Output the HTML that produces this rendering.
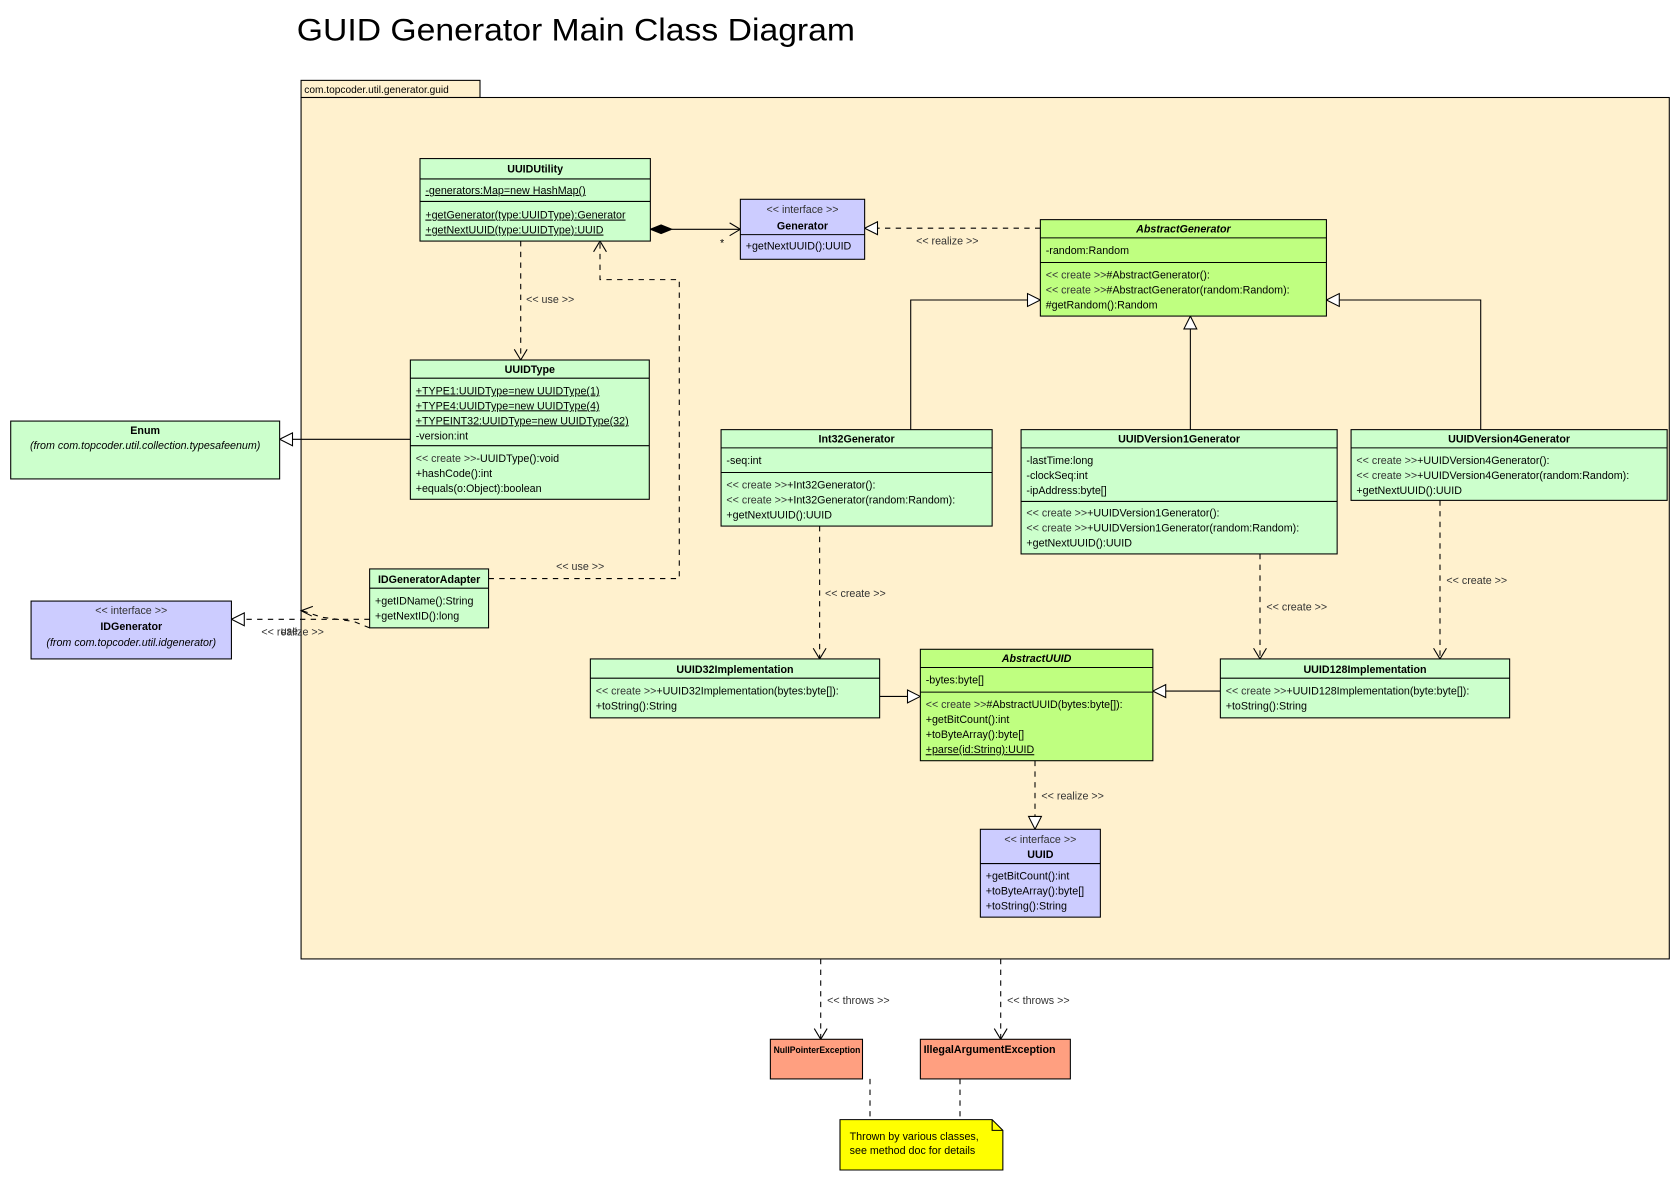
<!DOCTYPE html>
<html><head><meta charset="utf-8"><style>
html,body{margin:0;padding:0;background:#fff;}
svg{display:block}
text{font-family:"Liberation Sans","DejaVu Sans",sans-serif;font-size:10px;fill:#000}
.b{font-weight:bold}
.i{font-style:italic}
.s{fill:#333}
.u{text-decoration:underline}
.box{stroke:#000;stroke-width:1}
.ln{stroke:#000;stroke-width:1;fill:none}
.d{stroke:#000;stroke-width:1;fill:none;stroke-dasharray:5,5}
.tri{fill:#fff;stroke:#000;stroke-width:1}
</style></head><body>
<svg width="1680" height="1180" viewBox="0 0 1568 1101.33" xmlns="http://www.w3.org/2000/svg">
<rect width="1568" height="1102" fill="#fff"/>
<text x="277" y="38" style="font-size:29px" textLength="521" lengthAdjust="spacingAndGlyphs">GUID Generator Main Class Diagram</text>

<!-- package -->
<rect x="281" y="75" width="167" height="16" fill="#FFF1CE" class="box"/>
<text x="284" y="87" style="font-size:9.5px">com.topcoder.util.generator.guid</text>
<rect x="281" y="91" width="1277" height="804" fill="#FFF1CE" class="box"/>

<!-- connectors -->
<polygon points="607,214 617,210 627,214 617,218" fill="#000" stroke="#000"/>
<line x1="627" y1="214" x2="691" y2="214" class="ln"/>
<polyline points="681,208 691,214 681,220" class="ln"/>
<text x="672" y="230">*</text>

<line x1="971" y1="213" x2="819" y2="213" class="d"/>
<polygon points="807,213 819,207 819,219" class="tri"/>
<text x="855" y="228" class="s">&lt;&lt; realize &gt;&gt;</text>

<line x1="486" y1="225" x2="486" y2="336" class="d"/>
<polyline points="480,326 486,336 492,326" class="ln"/>
<text x="491" y="283" class="s">&lt;&lt; use &gt;&gt;</text>

<polyline points="456,540 634,540 634,261 560,261 560,225" class="d"/>
<polyline points="554,235 560,225 566,235" class="ln"/>
<text x="519" y="532" class="s">&lt;&lt; use &gt;&gt;</text>

<line x1="383" y1="410" x2="273" y2="410" class="ln"/>
<polygon points="261,410 273,404 273,416" class="tri"/>

<line x1="345" y1="578" x2="228" y2="578" class="d"/>
<polygon points="216,578 228,572 228,584" class="tri"/>
<polyline points="345,586 330,580 300,576 282,570" class="d"/>
<polyline points="292,566 281,570 291,575" class="ln"/>
<text x="244" y="593" class="s">&lt;&lt; realize &gt;&gt;</text>
<text x="262" y="592" class="s">use</text>

<polyline points="850,401 850,280 959,280" class="ln"/>
<polygon points="971,280 959,274 959,286" class="tri"/>
<line x1="1111" y1="401" x2="1111" y2="307" class="ln"/>
<polygon points="1111,295 1105,307 1117,307" class="tri"/>
<polyline points="1382,401 1382,280 1250,280" class="ln"/>
<polygon points="1238,280 1250,274 1250,286" class="tri"/>

<line x1="765" y1="491" x2="765" y2="615" class="d"/>
<polyline points="759,605 765,615 771,605" class="ln"/>
<text x="770" y="557" class="s">&lt;&lt; create &gt;&gt;</text>
<line x1="1176" y1="517" x2="1176" y2="615" class="d"/>
<polyline points="1170,605 1176,615 1182,605" class="ln"/>
<text x="1182" y="570" class="s">&lt;&lt; create &gt;&gt;</text>
<line x1="1344" y1="467" x2="1344" y2="615" class="d"/>
<polyline points="1338,605 1344,615 1350,605" class="ln"/>
<text x="1350" y="545" class="s">&lt;&lt; create &gt;&gt;</text>

<line x1="821" y1="650" x2="847" y2="650" class="ln"/>
<polygon points="859,650 847,644 847,656" class="tri"/>
<line x1="1139" y1="645" x2="1088" y2="645" class="ln"/>
<polygon points="1076,645 1088,639 1088,651" class="tri"/>

<line x1="966" y1="710" x2="966" y2="762" class="d"/>
<polygon points="966,774 960,762 972,762" class="tri"/>
<text x="972" y="746" class="s">&lt;&lt; realize &gt;&gt;</text>

<line x1="766" y1="895" x2="766" y2="970" class="d"/>
<polyline points="760,960 766,970 772,960" class="ln"/>
<text x="772" y="937" class="s">&lt;&lt; throws &gt;&gt;</text>
<line x1="934" y1="895" x2="934" y2="970" class="d"/>
<polyline points="928,960 934,970 940,960" class="ln"/>
<text x="940" y="937" class="s">&lt;&lt; throws &gt;&gt;</text>
<line x1="812" y1="1007" x2="812" y2="1045" class="d"/>
<line x1="896" y1="1007" x2="896" y2="1045" class="d"/>

<!-- UUIDUtility -->
<rect x="392" y="148" width="215" height="77" fill="#CCFFCC" class="box"/>
<line x1="392" y1="167" x2="607" y2="167" class="ln"/>
<line x1="392" y1="188" x2="607" y2="188" class="ln"/>
<text x="499.5" y="161" class="b" text-anchor="middle">UUIDUtility</text>
<text x="397" y="181" class="u">-generators:Map=new HashMap()</text>
<text x="397" y="204" class="u">+getGenerator(type:UUIDType):Generator</text>
<text x="397" y="218" class="u">+getNextUUID(type:UUIDType):UUID</text>

<!-- Generator -->
<rect x="691" y="186" width="116" height="56" fill="#CCCCFF" class="box"/>
<line x1="691" y1="219" x2="807" y2="219" class="ln"/>
<text x="749" y="199" class="s" text-anchor="middle">&lt;&lt; interface &gt;&gt;</text>
<text x="749" y="214" class="b" text-anchor="middle">Generator</text>
<text x="696" y="233">+getNextUUID():UUID</text>

<!-- AbstractGenerator -->
<rect x="971" y="205" width="267" height="90" fill="#BFFF80" class="box"/>
<line x1="971" y1="222" x2="1238" y2="222" class="ln"/>
<line x1="971" y1="245" x2="1238" y2="245" class="ln"/>
<text x="1104.5" y="217" class="b i" text-anchor="middle">AbstractGenerator</text>
<text x="976" y="237">-random:Random</text>
<text x="976" y="260"><tspan class="s">&lt;&lt; create &gt;&gt;</tspan>#AbstractGenerator():</text>
<text x="976" y="274"><tspan class="s">&lt;&lt; create &gt;&gt;</tspan>#AbstractGenerator(random:Random):</text>
<text x="976" y="288">#getRandom():Random</text>

<!-- UUIDType -->
<rect x="383" y="336" width="223" height="130" fill="#CCFFCC" class="box"/>
<line x1="383" y1="353" x2="606" y2="353" class="ln"/>
<line x1="383" y1="416" x2="606" y2="416" class="ln"/>
<text x="494.5" y="348" class="b" text-anchor="middle">UUIDType</text>
<text x="388" y="368" class="u">+TYPE1:UUIDType=new UUIDType(1)</text>
<text x="388" y="382" class="u">+TYPE4:UUIDType=new UUIDType(4)</text>
<text x="388" y="396" class="u">+TYPEINT32:UUIDType=new UUIDType(32)</text>
<text x="388" y="410">-version:int</text>
<text x="388" y="431"><tspan class="s">&lt;&lt; create &gt;&gt;</tspan>-UUIDType():void</text>
<text x="388" y="445">+hashCode():int</text>
<text x="388" y="459">+equals(o:Object):boolean</text>

<!-- Enum -->
<rect x="10" y="393" width="251" height="54" fill="#CCFFCC" class="box"/>
<text x="135.5" y="405" class="b" text-anchor="middle">Enum</text>
<text x="135.5" y="419" class="i" text-anchor="middle">(from com.topcoder.util.collection.typesafeenum)</text>

<!-- Int32Generator -->
<rect x="673" y="401" width="253" height="90" fill="#CCFFCC" class="box"/>
<line x1="673" y1="418" x2="926" y2="418" class="ln"/>
<line x1="673" y1="441" x2="926" y2="441" class="ln"/>
<text x="799.5" y="413" class="b" text-anchor="middle">Int32Generator</text>
<text x="678" y="433">-seq:int</text>
<text x="678" y="456"><tspan class="s">&lt;&lt; create &gt;&gt;</tspan>+Int32Generator():</text>
<text x="678" y="470"><tspan class="s">&lt;&lt; create &gt;&gt;</tspan>+Int32Generator(random:Random):</text>
<text x="678" y="484">+getNextUUID():UUID</text>

<!-- UUIDVersion1Generator -->
<rect x="953" y="401" width="295" height="116" fill="#CCFFCC" class="box"/>
<line x1="953" y1="418" x2="1248" y2="418" class="ln"/>
<line x1="953" y1="468" x2="1248" y2="468" class="ln"/>
<text x="1100.5" y="413" class="b" text-anchor="middle">UUIDVersion1Generator</text>
<text x="958" y="433">-lastTime:long</text>
<text x="958" y="447">-clockSeq:int</text>
<text x="958" y="461">-ipAddress:byte[]</text>
<text x="958" y="482"><tspan class="s">&lt;&lt; create &gt;&gt;</tspan>+UUIDVersion1Generator():</text>
<text x="958" y="496"><tspan class="s">&lt;&lt; create &gt;&gt;</tspan>+UUIDVersion1Generator(random:Random):</text>
<text x="958" y="510">+getNextUUID():UUID</text>

<!-- UUIDVersion4Generator -->
<rect x="1261" y="401" width="295" height="66" fill="#CCFFCC" class="box"/>
<line x1="1261" y1="418" x2="1556" y2="418" class="ln"/>
<text x="1408.5" y="413" class="b" text-anchor="middle">UUIDVersion4Generator</text>
<text x="1266" y="433"><tspan class="s">&lt;&lt; create &gt;&gt;</tspan>+UUIDVersion4Generator():</text>
<text x="1266" y="447"><tspan class="s">&lt;&lt; create &gt;&gt;</tspan>+UUIDVersion4Generator(random:Random):</text>
<text x="1266" y="461">+getNextUUID():UUID</text>

<!-- IDGeneratorAdapter -->
<rect x="345" y="531" width="111" height="55" fill="#CCFFCC" class="box"/>
<line x1="345" y1="549" x2="456" y2="549" class="ln"/>
<text x="400.5" y="544" class="b" text-anchor="middle">IDGeneratorAdapter</text>
<text x="350" y="564">+getIDName():String</text>
<text x="350" y="578">+getNextID():long</text>

<!-- IDGenerator -->
<rect x="29" y="561" width="187" height="54" fill="#CCCCFF" class="box"/>
<text x="122.5" y="573" class="s" text-anchor="middle">&lt;&lt; interface &gt;&gt;</text>
<text x="122.5" y="588" class="b" text-anchor="middle">IDGenerator</text>
<text x="122.5" y="603" class="i" text-anchor="middle">(from com.topcoder.util.idgenerator)</text>

<!-- UUID32Implementation -->
<rect x="551" y="615" width="270" height="55" fill="#CCFFCC" class="box"/>
<line x1="551" y1="633" x2="821" y2="633" class="ln"/>
<text x="686" y="628" class="b" text-anchor="middle">UUID32Implementation</text>
<text x="556" y="648"><tspan class="s">&lt;&lt; create &gt;&gt;</tspan>+UUID32Implementation(bytes:byte[]):</text>
<text x="556" y="662">+toString():String</text>

<!-- AbstractUUID -->
<rect x="859" y="606" width="217" height="104" fill="#BFFF80" class="box"/>
<line x1="859" y1="623" x2="1076" y2="623" class="ln"/>
<line x1="859" y1="646" x2="1076" y2="646" class="ln"/>
<text x="967.5" y="618" class="b i" text-anchor="middle">AbstractUUID</text>
<text x="864" y="638">-bytes:byte[]</text>
<text x="864" y="661"><tspan class="s">&lt;&lt; create &gt;&gt;</tspan>#AbstractUUID(bytes:byte[]):</text>
<text x="864" y="675">+getBitCount():int</text>
<text x="864" y="689">+toByteArray():byte[]</text>
<text x="864" y="703" class="u">+parse(id:String):UUID</text>

<!-- UUID128Implementation -->
<rect x="1139" y="615" width="270" height="55" fill="#CCFFCC" class="box"/>
<line x1="1139" y1="633" x2="1409" y2="633" class="ln"/>
<text x="1274" y="628" class="b" text-anchor="middle">UUID128Implementation</text>
<text x="1144" y="648"><tspan class="s">&lt;&lt; create &gt;&gt;</tspan>+UUID128Implementation(byte:byte[]):</text>
<text x="1144" y="662">+toString():String</text>

<!-- UUID -->
<rect x="915" y="774" width="112" height="82" fill="#CCCCFF" class="box"/>
<line x1="915" y1="806" x2="1027" y2="806" class="ln"/>
<text x="971" y="787" class="s" text-anchor="middle">&lt;&lt; interface &gt;&gt;</text>
<text x="971" y="801" class="b" text-anchor="middle">UUID</text>
<text x="920" y="821">+getBitCount():int</text>
<text x="920" y="835">+toByteArray():byte[]</text>
<text x="920" y="849">+toString():String</text>

<!-- exceptions -->
<rect x="719" y="970" width="86" height="37" fill="#FF9F80" class="box"/>
<text x="722" y="983" class="b" style="font-size:9px" textLength="81" lengthAdjust="spacingAndGlyphs">NullPointerException</text>
<rect x="859" y="970" width="140" height="37" fill="#FF9F80" class="box"/>
<text x="862" y="983" class="b">IllegalArgumentException</text>

<!-- note -->
<polygon points="784,1045 926,1045 936,1055 936,1092 784,1092" fill="#FFFF00" class="box"/>
<polyline points="926,1045 926,1055 936,1055" class="ln"/>
<text x="793" y="1064">Thrown by various classes,</text>
<text x="793" y="1077">see method doc for details</text>
</svg>
</body></html>
